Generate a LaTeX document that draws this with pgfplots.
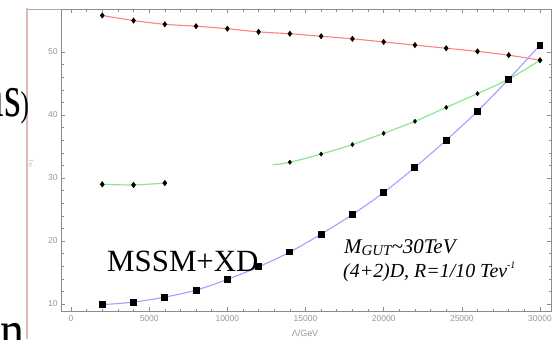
\documentclass[border=0pt]{standalone}
\usepackage{fontspec}
\setmainfont{Liberation Serif}
\newfontfamily\labfont{Liberation Sans}
\usepackage{pgfplots}
\pgfplotsset{compat=1.18}

\definecolor{redline}{RGB}{255,130,130}
\definecolor{greenline}{RGB}{140,232,140}
\definecolor{blueline}{RGB}{160,160,255}
\definecolor{framegray}{RGB}{140,140,140}
\definecolor{labgray}{RGB}{150,150,150}
\definecolor{slidepink}{RGB}{225,185,180}

\begin{document}
\begin{tikzpicture}[x=1bp,y=1bp]
\useasboundingbox (0,0) rectangle (559,339);
\clip (0,0) rectangle (559,339);

% fragments of the surrounding slide
\draw[slidepink, line width=2bp] (27,0) -- (27,331);
\draw[framegray!70, line width=0.8bp] (27,330) -- (61,330);
\node[anchor=base east, inner sep=0, font=\fontsize{60}{60}\selectfont, xscale=0.72] at (21,223) {ns};
\node[anchor=base west, inner sep=0, font=\fontsize{36}{36}\selectfont, xscale=0.7] at (20.5,223) {)};
\node[anchor=base east, inner sep=0, font=\fontsize{60}{60}\selectfont, xscale=0.8] at (25,-12) {n};

\begin{axis}[
  at={(61bp,28bp)}, anchor=south west,
  scale only axis, width=490bp, height=302bp,
  xmin=-640, xmax=30704, ymin=8.89, ymax=56.83,
  xtick={0,5000,...,30000}, ytick={10,20,...,50},
  scaled x ticks=false,
  minor x tick num=4, minor y tick num=4,
  axis line style={framegray, line width=0.8bp},
  tick style={framegray, line width=0.6bp},
  major tick length=4bp, minor tick length=2.5bp,
  tick align=inside,
  /pgf/number format/.cd, 1000 sep={}, assume math mode=true,
  /pgfplots/.cd,
  ticklabel style={font=\labfont\fontsize{8.5}{8.5}\selectfont, text=labgray},
  xticklabel style={yshift=-1.5bp},
  clip=false,
]
% upper branch
\addplot[redline, line width=1.1bp, smooth, mark=diamond*, mark size=2.2bp,
  mark options={black, fill=black, solid}] coordinates {
  (2000,55.8)(4000,55.0)(6000,54.4)(8000,54.1)(10000,53.7)(12000,53.2)
  (14000,52.9)(16000,52.5)(18000,52.1)(20000,51.6)(22000,51.1)(24000,50.6)
  (26000,50.1)(28000,49.5)(30000,48.7)};
% middle branch, low-scale piece
\addplot[greenline, line width=1.2bp, smooth, mark=diamond*, mark size=2.2bp,
  mark options={black, fill=black}] coordinates {
  (2000,29.0)(4000,28.9)(6000,29.2)};
% middle branch, high-scale piece
\addplot[greenline, line width=1.2bp, smooth] coordinates {
  (12900,32.1)(14000,32.5)(16000,33.8)(18000,35.3)(20000,37.1)(22000,39.0)
  (24000,41.2)(26000,43.4)(28000,45.7)(30000,48.7)};
\addplot[only marks, mark=diamond*, mark size=2.2bp,
  mark options={black, fill=black}] coordinates {
  (14000,32.5)(16000,33.8)(18000,35.3)(20000,37.1)(22000,39.0)
  (24000,41.2)(26000,43.4)(28000,45.7)(30000,48.7)};
% lower branch
\addplot[blueline, line width=1.1bp, smooth, mark=square*, mark size=2.9bp,
  mark options={black, fill=black}] coordinates {
  (2000,9.9)(4000,10.3)(6000,11.1)(8000,12.2)(10000,13.9)(12000,15.9)
  (14000,18.25)(16000,21.1)(18000,24.2)(20000,27.7)(22000,31.7)(24000,36.0)
  (26000,40.6)(28000,45.7)(30000,51.1)};
\end{axis}

% axis titles
\node[font=\labfont\fontsize{9}{9}\selectfont, text=labgray, anchor=base] at (305,2.5) {Λ/GeV};
\node[font=\fontsize{6}{6}\selectfont, text=labgray, rotate=90] at (31,176) {$\alpha_1$};

% annotations
\node[anchor=base west, inner sep=0, font=\fontsize{31}{31}\selectfont] at (107,68) {MSSM+XD};
\node[anchor=base west, inner sep=0, font=\itshape\fontsize{21}{21}\selectfont] at (344,86)
  {M\raisebox{-0.3ex}{\fontsize{15}{15}\selectfont GUT}\char"7E 30TeV};
\node[anchor=base west, inner sep=0, font=\itshape\fontsize{20}{20}\selectfont] at (343,62)
  {(4+2)D, R=1/10 Tev\raisebox{0.9ex}{\fontsize{10}{10}\selectfont -1}};
\end{tikzpicture}
\end{document}
